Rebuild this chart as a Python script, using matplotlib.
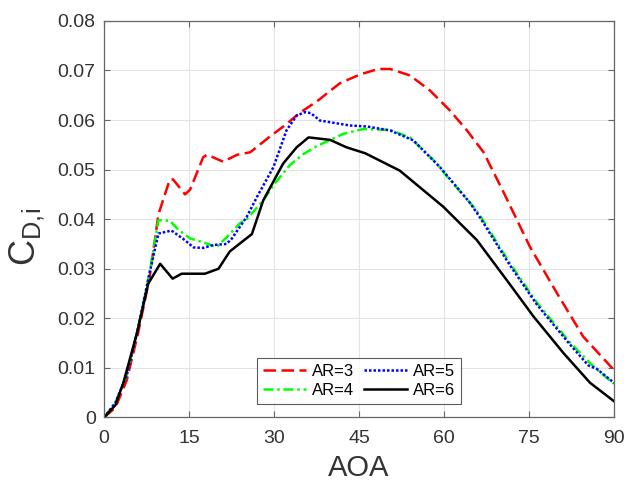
import matplotlib
matplotlib.use("Agg")
import matplotlib.pyplot as plt

plt.rcParams['font.family'] = ['Liberation Sans', 'DejaVu Sans']
plt.rcParams['mathtext.fontset'] = 'custom'
plt.rcParams['mathtext.rm'] = 'Liberation Sans'
plt.rcParams['mathtext.it'] = 'Liberation Sans'

ar3_x = [0, 2, 4, 6, 8, 9.6, 11.6, 12.2, 14.3, 15.2, 17.5, 18.2, 21, 23.5, 25.8, 28, 29.3, 32, 34.6,
         37.5, 41.6, 45.2, 48.4, 50.5, 54, 57.5, 61, 64, 67, 70.5, 75.2, 80, 84.6, 90]
ar3_y = [0, 0.002, 0.0075, 0.017, 0.028, 0.041, 0.048, 0.048, 0.045, 0.046, 0.0525, 0.053, 0.0516, 0.053,
         0.0535, 0.0555, 0.0567, 0.059, 0.0615, 0.0637, 0.0674, 0.0692, 0.0703, 0.0703, 0.069, 0.066,
         0.062, 0.058, 0.0535, 0.0455, 0.0344, 0.025, 0.0163, 0.0096]

ar4_x = [0, 2, 4, 6, 8, 9.6, 11.6, 13, 15.2, 17, 19.9, 22.2, 24, 25.2, 28.1, 30, 32.8, 35, 37.5, 42.2,
         45.8, 50.5, 54, 58.7, 60.5, 65.2, 66.4, 71.6, 76.4, 82.2, 86.3, 90]
ar4_y = [0, 0.003, 0.0085, 0.018, 0.029, 0.0398, 0.0397, 0.038, 0.0361, 0.0355, 0.0344, 0.037, 0.0392,
         0.040, 0.0438, 0.047, 0.0509, 0.053, 0.0547, 0.0572, 0.0582, 0.058, 0.0565, 0.0513, 0.0487,
         0.0425, 0.0407, 0.0312, 0.0232, 0.0152, 0.0104, 0.0068]

ar5_x = [0, 2, 4, 6, 8, 9.6, 11.9, 14, 15.8, 17.5, 19.3, 21.6, 22.5, 25.2, 27, 29.9, 32.2, 34, 35.5,
         36.5, 38.1, 43.4, 46.4, 50.5, 54.6, 59.3, 64.6, 66.4, 71.6, 76.4, 82.2, 85.5, 87, 90]
ar5_y = [0, 0.003, 0.0085, 0.018, 0.029, 0.0371, 0.0377, 0.036, 0.0343, 0.0342, 0.0348, 0.035, 0.036,
         0.0405, 0.0445, 0.0505, 0.0579, 0.0609, 0.0616, 0.0614, 0.0599, 0.0589, 0.0587, 0.0579, 0.0559,
         0.0505, 0.0433, 0.0403, 0.0308, 0.0228, 0.0148, 0.0105, 0.0098, 0.007]

ar6_x = [0, 2, 3.4, 5.8, 7.8, 9.9, 12.1, 13.7, 17.8, 20.2, 22.2, 26.1, 28.1, 31.6, 34, 36.1, 39.9, 42.8,
         46.1, 52.2, 59.9, 65.8, 71.1, 75.8, 81.1, 85.8, 90]
ar6_y = [0, 0.0025, 0.007, 0.017, 0.027, 0.031, 0.028, 0.029, 0.029, 0.030, 0.0335, 0.037, 0.0438,
         0.0512, 0.0545, 0.0565, 0.056, 0.0545, 0.0533, 0.0498, 0.0425, 0.0358, 0.0277, 0.0204, 0.013,
         0.007, 0.0033]

labels = ['AR=3', 'AR=4', 'AR=5', 'AR=6']
x_ticks = [0, 15, 30, 45, 60, 75, 90]
y_ticks = [0, 0.01, 0.02, 0.03, 0.04, 0.05, 0.06, 0.07, 0.08]

fig = plt.figure(figsize=(6.27, 4.86), dpi=100)
ax = fig.add_axes([0.166, 0.141, 0.813, 0.816])

lw = 1.8
ax.plot(ar3_x, ar3_y, color='#ff0000', linestyle=(0, (5, 2.2)), lw=lw, label=labels[0])
ax.plot(ar4_x, ar4_y, color='#00ff00', linestyle=(0, (4, 1.5, 1, 1.5)), lw=lw, label=labels[1])
ax.plot(ar5_x, ar5_y, color='#0000ff', linestyle=(0, (1, 0.8)), lw=lw, label=labels[2])
ax.plot(ar6_x, ar6_y, color='#000000', linestyle='-', lw=lw, label=labels[3])

ax.set_xlim(0, 90)
ax.set_ylim(0, 0.08)
ax.set_xticks(x_ticks)
ax.set_yticks(y_ticks)
ax.set_yticklabels(['0'] + ['%.2f' % v for v in y_ticks[1:]])
ax.grid(True, color='#e3e3e3', linewidth=0.8)
ax.set_axisbelow(True)
ax.tick_params(direction='in', top=True, right=True, labelsize=14, colors='#666666',
               labelcolor='#333333', length=4, width=0.8)
ax.tick_params(axis='x', pad=9)
ax.tick_params(axis='y', pad=6)
for s in ax.spines.values():
    s.set_color('#666666')
    s.set_linewidth(0.9)

ax.set_xlabel('AOA', fontsize=21, color='#333333', labelpad=5)
ax.set_ylabel(r'$\mathregular{C_{D,\!i}}$', fontsize=26, color='#333333')
ax.yaxis.set_label_coords(-0.112, 0.455)

leg = ax.legend(loc='lower left', bbox_to_anchor=(0.30, 0.034), ncol=2, fontsize=12,
                frameon=True, fancybox=False, edgecolor='#333333', handlelength=2.6,
                handletextpad=0.35, columnspacing=0.6, borderpad=0.35, labelspacing=0.25,
                borderaxespad=0)
leg.get_frame().set_linewidth(0.8)

fig.savefig('out.png', dpi=100)
